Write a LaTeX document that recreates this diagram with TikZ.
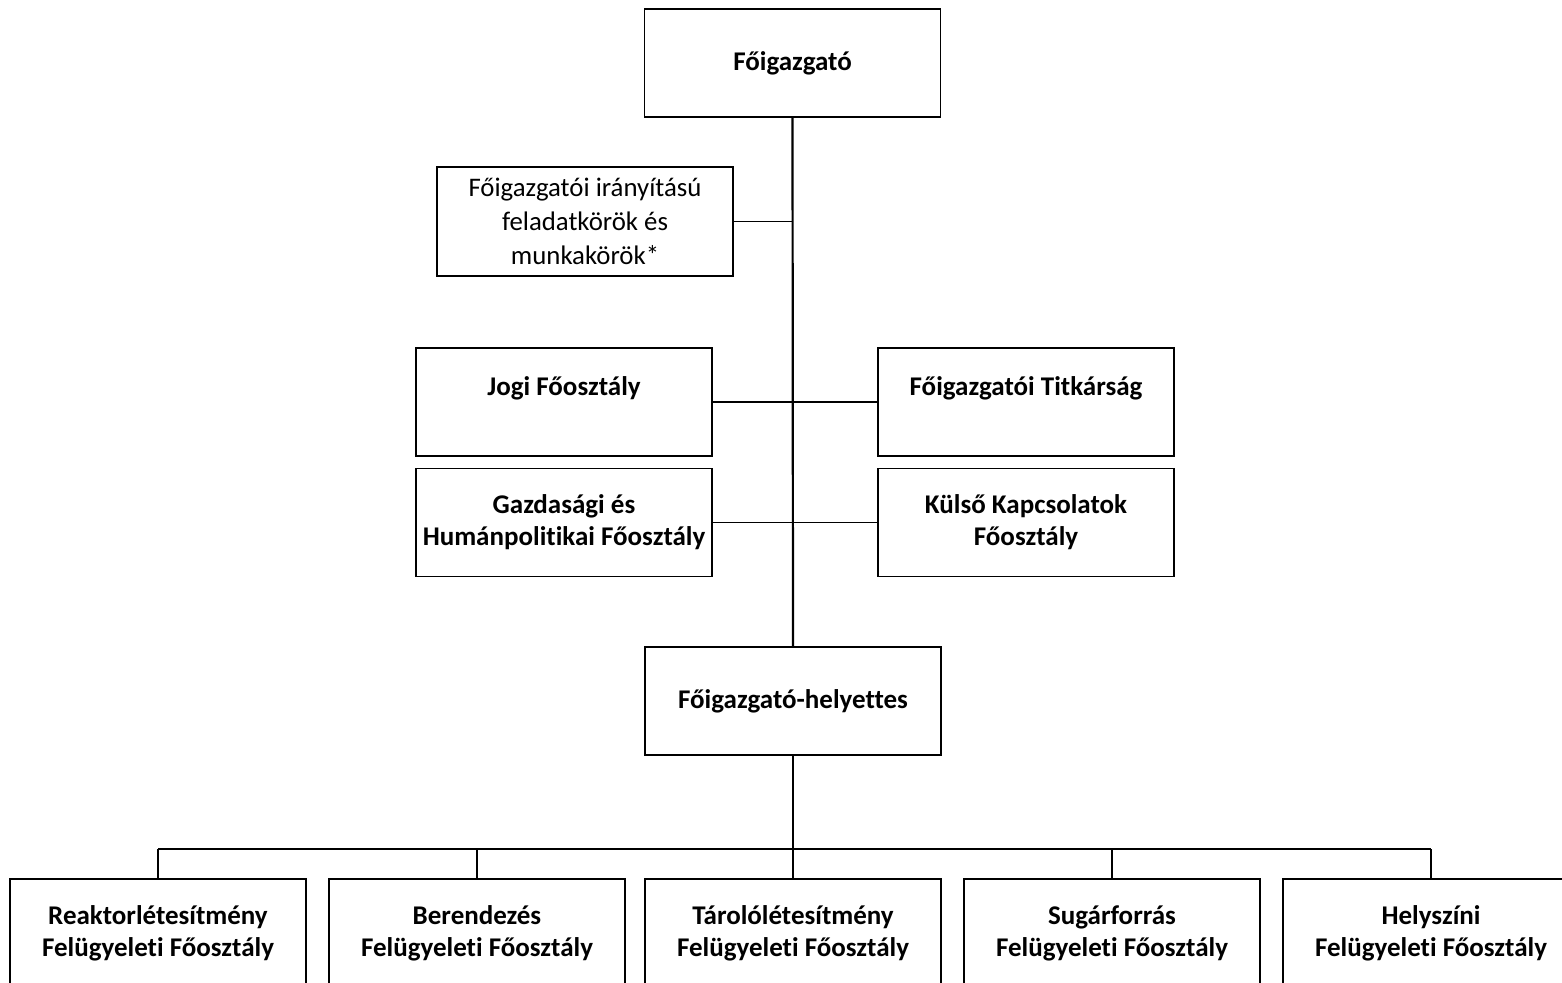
\documentclass[tikz,border=0pt]{standalone}
\usepackage{fontspec}
\setmainfont{Carlito}[Ligatures=NoCommon]
\usepackage{tikz}
\usetikzlibrary{positioning}

\begin{document}
\begin{tikzpicture}[x=0.5pt, y=-0.5pt,
          unit/.style={rectangle, draw=black, line width=0.6pt, fill=white,
                       minimum width=148pt, minimum height=54pt, inner sep=0pt,
                       align=center, font=\fontsize{13.5}{16}\selectfont\bfseries},
          staffbox/.style={unit, minimum height=54.5pt,
                       font=\fontsize{13.4}{17}\selectfont},
          main/.style={draw=black, line width=1.1pt},
          link/.style={draw=black, line width=0.6pt}
        ]
        \clip (0,0) rectangle (1562,983);
        \useasboundingbox (0,0) rectangle (1562,983);

        % Top
        \node[unit] (foig) at (792.5, 63) {Főigazgató};
        \node[staffbox] (staff) at (585, 221.5)
              {Főigazgatói irányítású\\feladatkörök és\\munkakörök*};

        % Main departments
        \node[unit] (jogi) at (564, 402) {Jogi Főosztály\\\phantom{X}};
        \node[unit] (gazd) at (564, 522.5) {Gazdasági és\\Humánpolitikai Főosztály};
        \node[unit] (titk) at (1026, 402) {Főigazgatói Titkárság\\\phantom{X}};
        \node[unit] (kulso) at (1026, 522.5) {Külső Kapcsolatok\\Főosztály};

        % Deputy
        \node[unit] (helyettes) at (793, 701) {Főigazgató-helyettes};

        % Supervisory departments
        \node[unit] (fel1) at (158, 933) {Reaktorlétesítmény\\Felügyeleti Főosztály};
        \node[unit] (fel2) at (477, 933) {Berendezés\\Felügyeleti Főosztály};
        \node[unit] (fel3) at (793, 933) {Tárolólétesítmény\\Felügyeleti Főosztály};
        \node[unit] (fel4) at (1112, 933) {Sugárforrás\\Felügyeleti Főosztály};
        \node[unit] (fel5) at (1431, 933) {Helyszíni\\Felügyeleti Főosztály};

        % Spine
        \coordinate (bus) at (helyettes.south |- 0, 849);
        \draw[main] (foig.south) -- (helyettes.north);
        \draw[main] (helyettes.south) -- (fel3.north);

        % Side links
        \coordinate (s1) at (foig.south |- staff.east);
        \draw[link] (staff.east) -- (s1);
        \draw[link] (jogi.east) -- (titk.west);
        \draw[link] (gazd.east) -- (kulso.west);

        % Bus
        \draw[link] (fel1.north |- bus) -- (fel5.north |- bus);
        \foreach \n in {fel1, fel2, fel4, fel5}
          \draw[link] (\n.north |- bus) -- (\n.north);
      \end{tikzpicture}
\end{document}
